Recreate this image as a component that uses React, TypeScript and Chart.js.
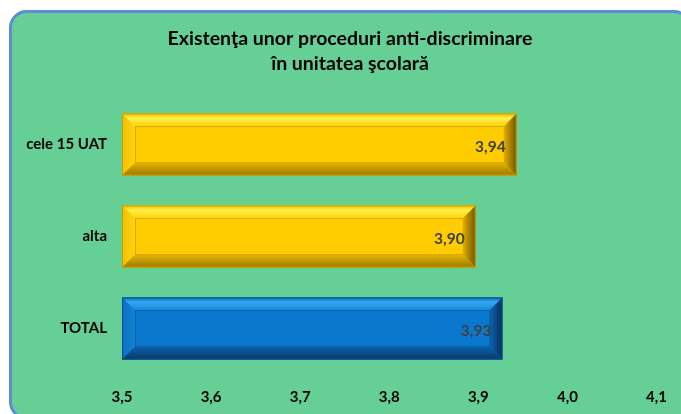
import React, { useEffect, useRef } from "react";
import { Chart, registerables } from "chart.js";

Chart.register(...registerables);

const titleLines = ["Existenţa unor proceduri anti-discriminare", "în unitatea şcolară"];
const categories = ["cele 15 UAT", "alta", "TOTAL"];
const values = [3.943, 3.897, 3.927];
const valueLabels = ["3,94", "3,90", "3,93"];
const xTickLabels = ["3,5", "3,6", "3,7", "3,8", "3,9", "4,0", "4,1"];
const xMin = 3.5;
const xMax = 4.1;

const FONT = "Lato, 'Open Sans', sans-serif";

type Palette = {
  face: string;
  top: [string, string, string];
  left: [string, string];
  right: [string, string];
  bottom: [string, string];
  inner: string;
  edge: string;
};

const yellow: Palette = {
  face: "#FFCC00",
  top: ["#E8BC00", "#FFEE48", "#FFD20A"],
  left: ["#F0C000", "#FFD414"],
  right: ["#E2B000", "#6E5300"],
  bottom: ["#E6B600", "#9C7600"],
  inner: "#D8A900",
  edge: "#C9A200",
};
const blue: Palette = {
  face: "#0A78CC",
  top: ["#0C6CBC", "#36A6F0", "#1688DA"],
  left: ["#0A70C0", "#1282D4"],
  right: ["#0A66B0", "#0A2E5C"],
  bottom: ["#0A62AA", "#0A3868"],
  inner: "#0A62AA",
  edge: "#0A4F90",
};
const palettes: Palette[] = [yellow, yellow, blue];

function poly(ctx: CanvasRenderingContext2D, pts: number[][], fill: string | CanvasGradient) {
  ctx.beginPath();
  ctx.moveTo(pts[0][0], pts[0][1]);
  for (let i = 1; i < pts.length; i++) ctx.lineTo(pts[i][0], pts[i][1]);
  ctx.closePath();
  ctx.fillStyle = fill;
  ctx.fill();
}

const backgroundPlugin = {
  id: "panelBackground",
  beforeDraw(chart: any) {
    const ctx: CanvasRenderingContext2D = chart.ctx;
    const x = 10.5, y = 11.5, w = 690 - 10.5, h = 418 - 11.5, r = 16;
    ctx.save();
    ctx.beginPath();
    ctx.moveTo(x + r, y);
    ctx.lineTo(x + w - r, y);
    ctx.arcTo(x + w, y, x + w, y + r, r);
    ctx.lineTo(x + w, y + h - r);
    ctx.arcTo(x + w, y + h, x + w - r, y + h, r);
    ctx.lineTo(x + r, y + h);
    ctx.arcTo(x, y + h, x, y + h - r, r);
    ctx.lineTo(x, y + r);
    ctx.arcTo(x, y, x + r, y, r);
    ctx.closePath();
    ctx.fillStyle = "#66CF95";
    ctx.fill();
    ctx.lineWidth = 3;
    ctx.strokeStyle = "#5B8BD9";
    ctx.stroke();

    ctx.font = `bold 19.5px ${FONT}`;
    ctx.fillStyle = "#000000";
    ctx.textAlign = "center";
    ctx.textBaseline = "middle";
    titleLines.forEach((t, i) => ctx.fillText(t, 350, 39 + i * 25));
    ctx.restore();
  },
};

const bevelPlugin = {
  id: "bevelBars",
  afterDatasetsDraw(chart: any) {
    const ctx: CanvasRenderingContext2D = chart.ctx;
    const meta = chart.getDatasetMeta(0);
    const area = chart.chartArea;
    ctx.save();
    meta.data.forEach((bar: any, i: number) => {
      const p = bar.getProps(["x", "y", "base", "height"], true);
      const L = Math.max(area.left, Math.min(p.base, p.x));
      const R = Math.min(area.right, Math.max(p.base, p.x));
      const T = p.y - p.height / 2;
      const B = p.y + p.height / 2;
      const b = 13;
      const pal = palettes[i];

      const gt = ctx.createLinearGradient(0, T, 0, T + b);
      gt.addColorStop(0, pal.top[0]);
      gt.addColorStop(0.35, pal.top[1]);
      gt.addColorStop(1, pal.top[2]);
      poly(ctx, [[L, T], [R, T], [R - b, T + b], [L + b, T + b]], gt);

      const gl = ctx.createLinearGradient(L, 0, L + b, 0);
      gl.addColorStop(0, pal.left[0]);
      gl.addColorStop(1, pal.left[1]);
      poly(ctx, [[L, T], [L + b, T + b], [L + b, B - b], [L, B]], gl);

      const gb = ctx.createLinearGradient(0, B - b, 0, B);
      gb.addColorStop(0, pal.bottom[0]);
      gb.addColorStop(1, pal.bottom[1]);
      poly(ctx, [[L, B], [L + b, B - b], [R - b, B - b], [R, B]], gb);

      const gr = ctx.createLinearGradient(R - b, 0, R, 0);
      gr.addColorStop(0, pal.right[0]);
      gr.addColorStop(1, pal.right[1]);
      poly(ctx, [[R, T], [R, B], [R - b, B - b], [R - b, T + b]], gr);

      ctx.lineWidth = 1;
      ctx.strokeStyle = pal.inner;
      ctx.strokeRect(Math.round(L + b) + 0.5, Math.round(T + b) + 0.5, Math.round(R - L - 2 * b), Math.round(B - T - 2 * b));
      ctx.strokeStyle = pal.edge;
      ctx.strokeRect(L + 0.5, T + 0.5, R - L - 1, B - T - 1);

      ctx.font = `bold 15.5px ${FONT}`;
      ctx.fillStyle = "#404040";
      ctx.textAlign = "right";
      ctx.textBaseline = "middle";
      ctx.fillText(valueLabels[i], R - 11, p.y + 2);
    });
    ctx.restore();
  },
};

export default function App() {
  const ref = useRef<HTMLCanvasElement | null>(null);

  useEffect(() => {
    if (!ref.current) return;
    const chart = new Chart(ref.current, {
      type: "bar",
      data: {
        labels: categories,
        datasets: [
          {
            data: values,
            backgroundColor: palettes.map((p) => p.face),
            borderWidth: 0,
            barPercentage: 0.675,
            categoryPercentage: 1,
          },
        ],
      },
      options: {
        indexAxis: "y",
        responsive: false,
        animation: false,
        devicePixelRatio: 1,
        layout: { padding: { left: 19, right: 24, top: 98.5, bottom: 0 } },
        plugins: {
          legend: { display: false },
          tooltip: { enabled: false },
          title: { display: false },
        },
        scales: {
          x: {
            min: xMin,
            max: xMax,
            grid: { display: false, drawTicks: false },
            border: { display: false },
            ticks: {
              stepSize: 0.1,
              padding: 14,
              color: "#000000",
              font: { family: FONT, size: 15, weight: "bold" },
              callback: (_v: any, idx: number) => xTickLabels[idx],
            },
            afterFit: (s: any) => {
              s.height = 39.5;
            },
          },
          y: {
            grid: { display: false, drawTicks: false },
            border: { display: false },
            ticks: {
              padding: 15,
              color: "#000000",
              font: { family: FONT, size: 15, weight: "bold" },
            },
            afterFit: (s: any) => {
              s.width = 103;
            },
          },
        },
      } as any,
      plugins: [backgroundPlugin, bevelPlugin],
    });
    return () => chart.destroy();
  }, []);

  return (
    <div style={{ position: "fixed", left: 0, top: 0, width: 681, height: 414, background: "#ffffff" }}>
      <canvas ref={ref} width={681} height={414} style={{ display: "block" }} />
    </div>
  );
}
